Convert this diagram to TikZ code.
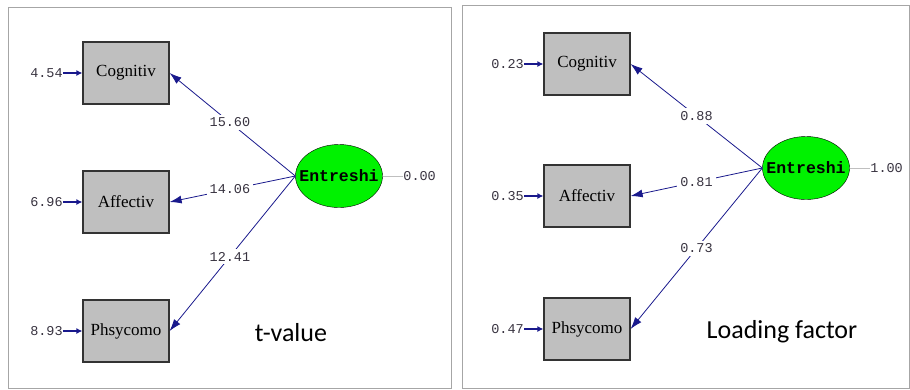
\documentclass[tikz,border=0pt]{standalone}
\usepackage{fontspec}
\setmainfont{Liberation Serif}
\newfontfamily\lisnum{Liberation Mono}
\newfontfamily\calib{Carlito}
\usetikzlibrary{positioning,arrows.meta,shapes.geometric}
\definecolor{pathblue}{rgb}{0.10,0.10,0.55}
\definecolor{numdark}{rgb}{0.22,0.20,0.25}
\definecolor{latgreen}{rgb}{0.0,0.95,0.0}
\definecolor{boxgray}{rgb}{0.75,0.75,0.75}

\begin{document}
\begin{tikzpicture}[x=1pt,y=-1pt,
  obs/.style={draw=black!80,fill=boxgray,line width=1.2pt,minimum width=86pt,minimum height=62pt,inner sep=0pt,font=\fontsize{17}{19}\selectfont},
  lat/.style={ellipse,draw=black,fill=latgreen,minimum width=87pt,minimum height=63pt,inner xsep=-9pt,inner ysep=0pt,font=\lisnum\bfseries\fontsize{16.5}{18}\selectfont},
  num/.style={inner sep=0.5pt,text=numdark,font=\lisnum\fontsize{13.5}{15}\selectfont},
  loadlbl/.style={num,fill=white,inner sep=3pt},
  load/.style={pathblue,line width=0.8pt,-{Latex[length=12pt,width=8pt]}},
  err/.style={pathblue,line width=1.8pt,-{Latex[length=6pt,width=6pt]}},
  frame/.style={draw=black!35,line width=1pt},
  caption/.style={font=\calib\fontsize{26}{30}\selectfont}]
\useasboundingbox (0,0) rectangle (910,389);

% left panel: t-values
\draw[frame] (8,7) rectangle (451,388);
\node[obs] (cogT) at (126,73) {Cognitiv};
\node[obs] (affT) at (126,202) {Affectiv};
\node[obs] (phsT) at (126,331) {Phsycomo};
\node[lat] (entT) at (339,176) {Entreshi};
\node[num,left=19pt of cogT] (ecogT) {4.54};
\node[num,left=19pt of affT] (eaffT) {6.96};
\node[num,left=19pt of phsT] (ephsT) {8.93};
\node[num,right=20pt of entT] (eentT) {0.00};
\draw[err] (ecogT) -- (cogT);
\draw[err] (eaffT) -- (affT);
\draw[err] (ephsT) -- (phsT);
\draw[black!25,line width=1pt] (entT) -- (eentT);
\draw[load] (entT.west) -- (cogT.east) node[loadlbl,pos=0.52] {15.60};
\draw[load] (entT.west) -- (affT.east) node[loadlbl,pos=0.52] {14.06};
\draw[load] (entT.west) -- (phsT.east) node[loadlbl,pos=0.52] {12.41};
\node[caption] (capT) at (291,333) {t-value};

% right panel: loading factors
\draw[frame] (462,5) rectangle (909,388);
\node[obs] (cogL) at (587,64) {Cognitiv};
\node[obs] (affL) at (587,196) {Affectiv};
\node[obs] (phsL) at (587,329) {Phsycomo};
\node[lat] (entL) at (806,168) {Entreshi};
\node[num,left=19pt of cogL] (ecogL) {0.23};
\node[num,left=19pt of affL] (eaffL) {0.35};
\node[num,left=19pt of phsL] (ephsL) {0.47};
\node[num,right=20pt of entL] (eentL) {1.00};
\draw[err] (ecogL) -- (cogL);
\draw[err] (eaffL) -- (affL);
\draw[err] (ephsL) -- (phsL);
\draw[black!25,line width=1pt] (entL) -- (eentL);
\draw[load] (entL.west) -- (cogL.east) node[loadlbl,pos=0.50] {0.88};
\draw[load] (entL.west) -- (affL.east) node[loadlbl,pos=0.50] {0.81};
\draw[load] (entL.west) -- (phsL.east) node[loadlbl,pos=0.50] {0.73};
\node[caption] (capL) at (782,332) {Loading factor};
\end{tikzpicture}
\end{document}
